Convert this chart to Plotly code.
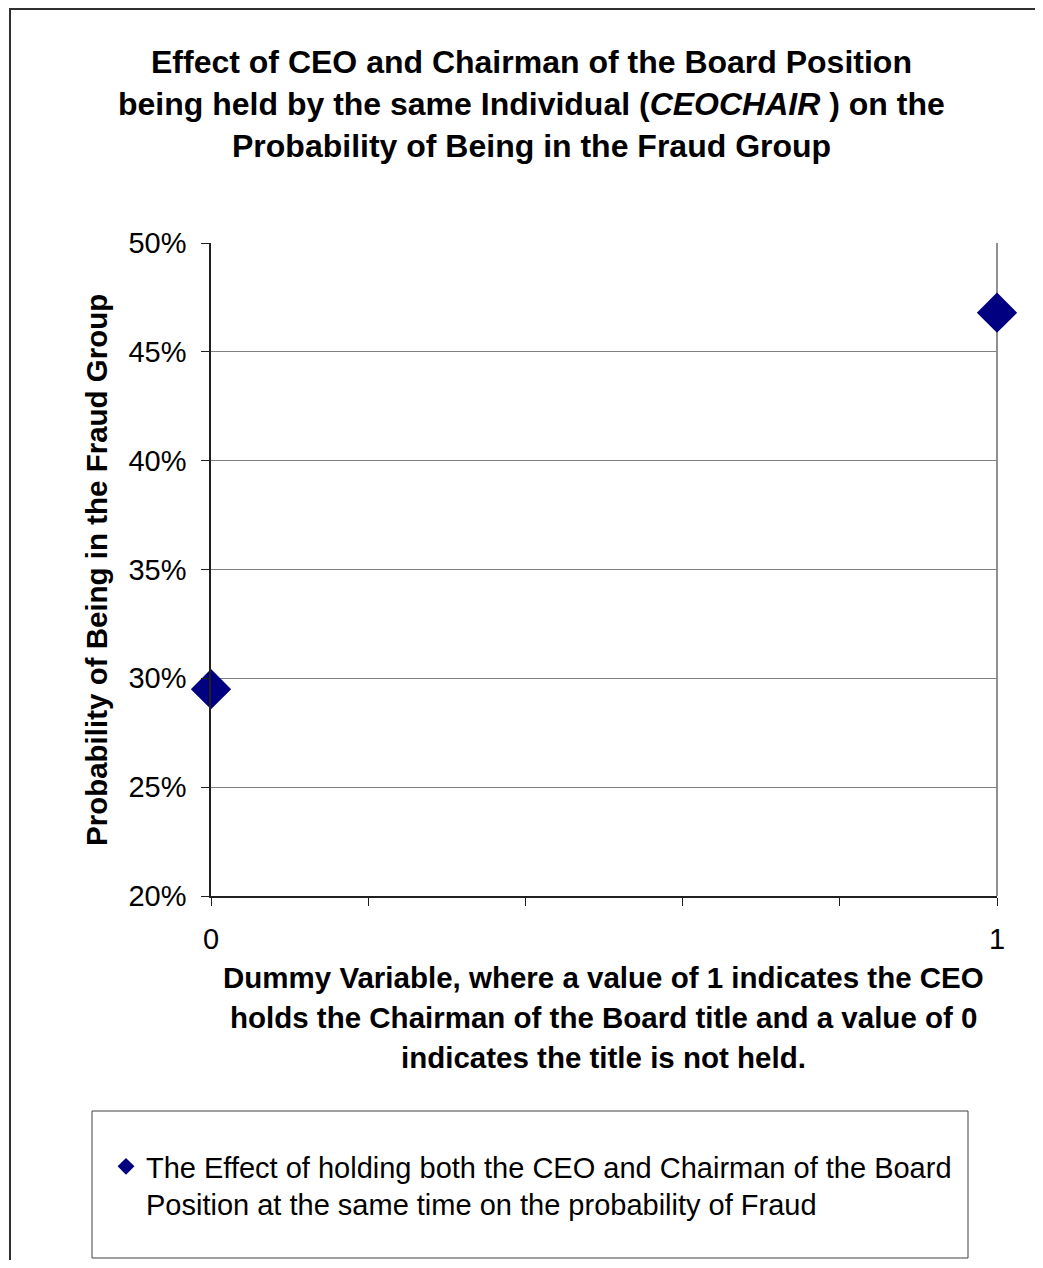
import plotly.graph_objects as go

# Data
x_values = [0, 1]
y_values = [0.295, 0.468]
series_name = ("The Effect of holding both the CEO and Chairman of the Board<br>"
               "Position at the same time on the probability of Fraud")
x_tickvals = [0, 0.2, 0.4, 0.6, 0.8, 1]
x_ticktext = ["0", "", "", "", "", "1"]
y_tickvals = [0.20, 0.25, 0.30, 0.35, 0.40, 0.45, 0.50]
title_lines = [
    "Effect of CEO and Chairman of the Board Position",
    "being held by the same Individual (<i>CEOCHAIR</i> ) on the",
    "Probability of Being in the Fraud Group",
]
xtitle_lines = [
    "Dummy Variable, where a value of 1 indicates the CEO",
    "holds the Chairman of the Board title and a value of 0",
    "indicates the title is not held.",
]
ytitle = "Probability of Being in the Fraud Group"

OFF = 8  # page body margin
W, H = 1043 - 2 * OFF, 1268 - 2 * OFF
# plot area in page pixels
PL, PR, PT, PB = 211, 997, 243, 896
L, R, T, B = PL - OFF, PR - OFF, PT - OFF, PB - OFF
PW, PH = R - L, B - T


def px(xp):
    return (xp - OFF - L) / PW


def py(yp):
    return (B - (yp - OFF)) / PH


FONT = "Liberation Sans, Arial, sans-serif"
NAVY = "#000080"

fig = go.Figure()
fig.add_trace(go.Scatter(
    x=x_values, y=y_values, mode="markers",
    marker=dict(symbol="diamond", size=31, color=NAVY),
    cliponaxis=False, showlegend=False, name=series_name,
))
# legend entry (same series, smaller legend symbol)
fig.add_trace(go.Scatter(
    x=[None], y=[None], mode="markers",
    marker=dict(symbol="diamond", size=13, color=NAVY),
    name=series_name, showlegend=True,
))

annotations = []
for line, yc in zip(title_lines, [62, 104, 146]):
    annotations.append(dict(
        text="<b>" + line + "</b>", x=px(531), y=py(yc), xref="paper", yref="paper",
        xanchor="center", yanchor="middle", showarrow=False,
        font=dict(family=FONT, size=32, color="black"),
    ))
for line, yc in zip(xtitle_lines, [977, 1017, 1057]):
    annotations.append(dict(
        text="<b>" + line + "</b>", x=px(603), y=py(yc), xref="paper", yref="paper",
        xanchor="center", yanchor="middle", showarrow=False,
        font=dict(family=FONT, size=29.5, color="black"),
    ))
annotations.append(dict(
    text="<b>" + ytitle + "</b>", x=px(96), y=py(570), xref="paper", yref="paper",
    xanchor="center", yanchor="middle", showarrow=False, textangle=-90,
    font=dict(family=FONT, size=29.5, color="black"),
))

shapes = [
    # outer chart border
    dict(type="rect", xref="paper", yref="paper",
         x0=px(10), y0=py(1290), x1=px(1070), y1=py(9),
         line=dict(color="#303030", width=2), layer="below"),
    # right border of plot area
    dict(type="line", xref="paper", yref="paper",
         x0=1, y0=0, x1=1, y1=1, line=dict(color="#909090", width=2), layer="below"),
    # legend box
    dict(type="rect", xref="paper", yref="paper",
         x0=px(92), y0=py(1258), x1=px(968), y1=py(1111),
         line=dict(color="#404040", width=1), fillcolor="white", layer="below"),
]

fig.update_layout(
    width=W, height=H,
    margin=dict(l=L, r=W - R, t=T, b=H - B, pad=0),
    paper_bgcolor="white", plot_bgcolor="white",
    font=dict(family=FONT, size=29, color="black"),
    showlegend=True,
    legend=dict(
        x=px(106), y=py(1141), xanchor="left", yanchor="top",
        bgcolor="rgba(0,0,0,0)", borderwidth=0, valign="top",
        font=dict(family=FONT, size=29, color="black"),
    ),
    annotations=annotations,
    shapes=shapes,
    xaxis=dict(
        range=[0, 1], tickvals=x_tickvals, ticktext=x_ticktext,
        showgrid=False, zeroline=False, showline=True, linecolor="#202020", linewidth=1.5,
        ticks="outside", ticklen=8, tickcolor="#202020", tickwidth=1,
        ticklabelstandoff=8, tickfont=dict(size=29),
    ),
    yaxis=dict(
        range=[0.2, 0.5], tickvals=y_tickvals, tickformat=".0%",
        showgrid=True, gridcolor="#808080", gridwidth=1,
        zeroline=False, showline=True, linecolor="#202020", linewidth=1.5,
        ticks="outside", ticklen=8, tickcolor="#202020", tickwidth=1,
        ticklabelstandoff=9, tickfont=dict(size=29),
    ),
)

fig.write_html("out.html")
